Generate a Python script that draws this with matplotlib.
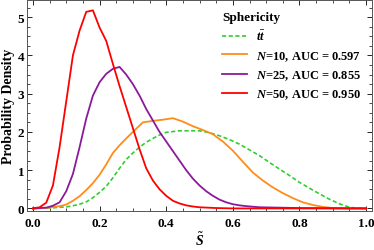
import numpy as np
import matplotlib as mpl
mpl.use("Agg")
import matplotlib.pyplot as plt
from matplotlib.ticker import MultipleLocator

mpl.rcParams['font.family'] = 'Liberation Serif'
mpl.rcParams['font.weight'] = 'bold'
mpl.rcParams['mathtext.fontset'] = 'custom'
mpl.rcParams['mathtext.rm'] = 'Liberation Serif:bold'
mpl.rcParams['mathtext.it'] = 'Liberation Serif:italic:bold'
mpl.rcParams['mathtext.bf'] = 'Liberation Serif:bold'

# tt background
tt_x = [0.00, 0.05, 0.10, 0.12, 0.14, 0.16, 0.18, 0.20, 0.22, 0.24, 0.26, 0.28, 0.30,
        0.32, 0.34, 0.36, 0.38, 0.40, 0.44, 0.50, 0.53, 0.56, 0.59, 0.62, 0.65, 0.68,
        0.71, 0.74, 0.77, 0.80, 0.83, 0.86, 0.89, 0.92, 0.95, 0.97, 1.00]
tt_y = [0.00, 0.01, 0.04, 0.07, 0.11, 0.17, 0.28, 0.42, 0.58, 0.80, 1.05, 1.28, 1.45,
        1.60, 1.73, 1.83, 1.92, 1.99, 2.03, 2.03, 1.98, 1.90, 1.80, 1.68, 1.53, 1.38,
        1.20, 1.03, 0.86, 0.68, 0.53, 0.38, 0.24, 0.12, 0.03, 0.01, 0.00]

# N=10
n10_x = [0.00, 0.04, 0.08, 0.10, 0.12, 0.14, 0.16, 0.18, 0.20, 0.22, 0.24, 0.26, 0.28,
         0.30, 0.33, 0.36, 0.39, 0.42, 0.45, 0.48, 0.51, 0.54, 0.57, 0.60, 0.63, 0.66,
         0.69, 0.72, 0.75, 0.78, 0.81, 0.84, 0.87, 0.90, 0.95, 1.00]
n10_y = [0.00, 0.01, 0.06, 0.10, 0.20, 0.32, 0.48, 0.66, 0.88, 1.15, 1.45, 1.65, 1.83,
         2.00, 2.25, 2.29, 2.32, 2.36, 2.27, 2.15, 2.05, 1.94, 1.75, 1.51, 1.22, 0.94,
         0.73, 0.55, 0.40, 0.27, 0.16, 0.09, 0.04, 0.01, 0.00, 0.00]

# N=25
n25_x = [0.00, 0.02, 0.04, 0.06, 0.08, 0.10, 0.12, 0.14, 0.16, 0.18, 0.20, 0.22, 0.24,
         0.26, 0.28, 0.30, 0.32, 0.34, 0.36, 0.38, 0.40, 0.42, 0.44, 0.46, 0.48, 0.50,
         0.52, 0.54, 0.56, 0.58, 0.60, 0.62, 0.64, 0.68, 0.74, 0.80, 1.00]
n25_y = [0.00, 0.01, 0.02, 0.07, 0.16, 0.45, 0.90, 1.60, 2.35, 2.95, 3.30, 3.52, 3.65,
         3.70, 3.50, 3.25, 2.95, 2.60, 2.30, 2.00, 1.75, 1.50, 1.25, 1.00, 0.78, 0.60,
         0.45, 0.33, 0.23, 0.16, 0.11, 0.08, 0.06, 0.03, 0.02, 0.01, 0.00]

# N=50
n50_x = [0.00, 0.02, 0.04, 0.06, 0.08, 0.10, 0.12, 0.14, 0.16, 0.18, 0.20, 0.22, 0.24,
         0.26, 0.28, 0.30, 0.32, 0.34, 0.36, 0.38, 0.40, 0.42, 0.44, 0.46, 0.48, 0.50,
         0.55, 0.60, 1.00]
n50_y = [0.00, 0.03, 0.15, 0.60, 1.60, 2.80, 4.00, 4.65, 5.14, 5.18, 4.73, 4.38, 3.78,
         3.20, 2.65, 2.10, 1.55, 1.05, 0.73, 0.50, 0.33, 0.20, 0.13, 0.08, 0.05, 0.03,
         0.01, 0.00, 0.00]

labels = [r"$t\bar{t}$", r"$N$=10, AUC = 0.597", r"$N$=25, AUC = 0.855", r"$N$=50, AUC = 0.950"]
colors = ["#33cc33", "#ff8c1a", "#8b1a9b", "#ff0000"]

fig = plt.figure(figsize=(3.74, 2.51), dpi=100)
ax = fig.add_axes([0.072, 0.155, 0.923, 0.841])

ax.plot(tt_x, tt_y, color=colors[0], lw=1.2, dashes=(2.5, 1.5), label=labels[0])
ax.plot(n10_x, n10_y, color=colors[1], lw=1.3, label=labels[1])
ax.plot(n25_x, n25_y, color=colors[2], lw=1.3, label=labels[2])
ax.plot(n50_x, n50_y, color=colors[3], lw=1.3, label=labels[3])

ax.set_xlim(-0.018, 1.018)
ax.set_ylim(-0.07, 5.45)
ax.xaxis.set_major_locator(MultipleLocator(0.2))
ax.xaxis.set_minor_locator(MultipleLocator(0.05))
ax.yaxis.set_major_locator(MultipleLocator(1))
ax.yaxis.set_minor_locator(MultipleLocator(0.25))
ax.tick_params(which='both', direction='in', top=True, right=True, labelsize=9.5, pad=2)
ax.tick_params(which='major', length=3.5, width=0.6)
ax.tick_params(which='minor', length=2, width=0.5)
ax.tick_params(axis='x', pad=4)
for lab in ax.get_xticklabels() + ax.get_yticklabels():
    lab.set_fontweight('bold')
for s in ax.spines.values():
    s.set_linewidth(0.7)
    s.set_color('#555555')

ax.set_xlabel(r"$\tilde{S}$", fontsize=10, labelpad=1)
ax.set_ylabel("Probability Density", fontsize=10, fontweight='bold', labelpad=2)

leg = ax.legend(loc='upper right', bbox_to_anchor=(1.0, 1.0), frameon=False,
                title="Sphericity", fontsize=9, title_fontproperties={'weight': 'bold', 'size': 9.5},
                handlelength=2.0, handletextpad=0.7, labelspacing=0.45, borderaxespad=0.5,
                alignment='left')

fig.savefig("out.png", dpi=100)
